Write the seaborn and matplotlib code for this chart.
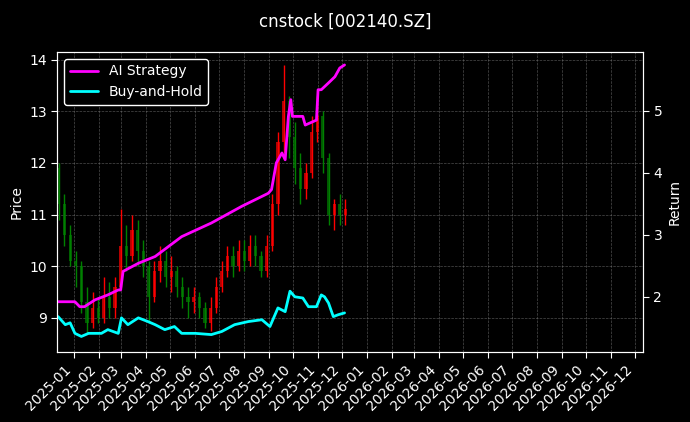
import numpy as np
import pandas as pd
import matplotlib
matplotlib.use("Agg")
import matplotlib.pyplot as plt
import matplotlib.dates as mdates
import seaborn as sns

# weekly candles
opens  = [11.9, 11.2, 10.6, 10.1, 10.0, 9.3, 8.9, 9.2, 9.0, 9.4, 9.2, 9.6, 10.4, 10.2, 10.7, 10.3,
          10.0, 9.4, 9.9, 10.1, 9.8, 9.9, 9.6, 9.4, 9.3, 9.4, 9.2, 8.9, 9.2, 9.6, 9.9, 10.2,
          10.0, 10.3, 10.1, 10.4, 10.2, 9.9, 10.4, 11.2, 12.4, 13.2, 12.5, 11.9, 11.5, 11.8,
          12.6, 12.9, 12.1, 11.0, 11.2, 11.0]
closes = [11.2, 10.6, 10.1, 10.0, 9.3, 8.9, 9.2, 9.0, 9.4, 9.2, 9.6, 10.4, 10.2, 10.7, 10.3, 10.0,
          9.4, 9.9, 10.1, 9.8, 9.9, 9.6, 9.4, 9.3, 9.4, 9.2, 8.9, 9.2, 9.6, 9.9, 10.2, 10.0,
          10.3, 10.1, 10.4, 10.2, 9.9, 10.4, 11.2, 12.4, 13.2, 12.5, 11.9, 11.5, 11.8, 12.6,
          12.9, 12.1, 11.0, 11.2, 11.0, 11.1]
highs  = [12.0, 11.4, 10.8, 10.3, 10.1, 9.6, 9.5, 9.4, 9.8, 9.7, 9.8, 11.1, 10.8, 11.0, 10.9, 10.5,
          10.1, 10.1, 10.4, 10.3, 10.2, 10.0, 9.8, 9.6, 9.6, 9.5, 9.3, 9.4, 9.8, 10.1, 10.4, 10.4,
          10.5, 10.5, 10.6, 10.6, 10.3, 10.6, 11.4, 12.6, 13.9, 13.3, 12.8, 12.2, 12.0, 12.9,
          13.3, 13.0, 12.2, 11.3, 11.4, 11.3]
lows   = [10.9, 10.4, 10.0, 9.6, 9.1, 8.7, 8.8, 8.9, 8.9, 9.0, 9.0, 9.6, 9.9, 10.1, 10.0, 9.8,
          8.9, 9.3, 9.7, 9.6, 9.5, 9.4, 9.2, 9.0, 9.1, 9.0, 8.8, 8.75, 9.1, 9.5, 9.8, 9.8,
          9.9, 9.9, 10.0, 10.0, 9.8, 9.8, 10.3, 11.0, 12.2, 12.1, 11.6, 11.2, 11.3, 11.7,
          12.4, 11.8, 10.8, 10.7, 10.8, 10.8]

ai_dates = ["2024-12-12", "2025-01-02", "2025-01-08", "2025-01-14", "2025-01-27", "2025-02-12",
            "2025-02-25", "2025-02-28", "2025-03-03", "2025-03-22", "2025-04-12", "2025-05-15",
            "2025-06-21", "2025-07-29", "2025-08-31", "2025-09-04", "2025-09-10", "2025-09-17",
            "2025-09-21", "2025-09-25", "2025-09-28", "2025-09-30", "2025-10-13", "2025-10-16",
            "2025-10-30", "2025-11-01", "2025-11-05", "2025-11-14", "2025-11-22", "2025-11-28",
            "2025-12-04"]
ai_ret = [1.92, 1.92, 1.84, 1.84, 1.95, 2.03, 2.11, 2.11, 2.41, 2.54, 2.65, 2.97, 3.19, 3.46,
          3.67, 3.73, 4.16, 4.32, 4.21, 4.91, 5.18, 4.91, 4.91, 4.77, 4.85, 5.34, 5.34, 5.45,
          5.55, 5.69, 5.74]

bh_dates = ["2024-12-12", "2024-12-21", "2024-12-27", "2025-01-02", "2025-01-10", "2025-01-19",
            "2025-02-04", "2025-02-12", "2025-02-25", "2025-03-01", "2025-03-09", "2025-03-22",
            "2025-04-03", "2025-04-12", "2025-04-24", "2025-05-06", "2025-05-15", "2025-06-01",
            "2025-06-21", "2025-07-04", "2025-07-20", "2025-08-06", "2025-08-23", "2025-09-02",
            "2025-09-12", "2025-09-21", "2025-09-27", "2025-10-03", "2025-10-13", "2025-10-20",
            "2025-10-30", "2025-11-05", "2025-11-09", "2025-11-14", "2025-11-20", "2025-11-26",
            "2025-12-04"]
bh_ret = [1.68, 1.55, 1.58, 1.41, 1.36, 1.41, 1.41, 1.47, 1.41, 1.66, 1.55, 1.66, 1.60, 1.55,
          1.47, 1.52, 1.41, 1.41, 1.39, 1.44, 1.55, 1.60, 1.63, 1.52, 1.82, 1.76, 2.09, 2.00,
          1.98, 1.84, 1.84, 2.03, 2.00, 1.90, 1.68, 1.71, 1.74]

weeks = pd.date_range("2024-12-13", periods=len(closes), freq="7D")
candles = pd.DataFrame({"date": weeks, "open": opens, "close": closes, "high": highs, "low": lows})
ai = pd.DataFrame({"date": pd.to_datetime(ai_dates), "ret": ai_ret})
bh = pd.DataFrame({"date": pd.to_datetime(bh_dates), "ret": bh_ret})

plt.style.use("dark_background")
sns.set_style("dark", {"axes.facecolor": "black", "figure.facecolor": "black",
                       "axes.edgecolor": "white", "text.color": "white",
                       "axes.labelcolor": "white", "xtick.color": "white", "ytick.color": "white"})

fig = plt.figure(figsize=(6.9, 4.22), dpi=100)
ax = fig.add_axes([0.083, 0.166, 0.849, 0.711])

for _, r in candles.iterrows():
    col = "red" if r["close"] >= r["open"] else "green"
    ax.vlines(r["date"], r["low"], r["high"], color=col, linewidth=1.0)
    ax.bar(r["date"], abs(r["close"] - r["open"]), bottom=min(r["open"], r["close"]),
           width=4.0, color=col, edgecolor="none", linewidth=0, alpha=0.7)

ax.set_ylim(8.34, 14.15)
ax.set_xlim(pd.Timestamp("2024-12-11"), pd.Timestamp("2026-12-11"))
ax.set_ylabel("Price")
ax.grid(True, color="gray", linestyle="--", linewidth=0.5, alpha=0.6)
ax.xaxis.set_major_locator(mdates.MonthLocator())
ax.xaxis.set_major_formatter(mdates.DateFormatter("%Y-%m"))
ax.tick_params(axis="both", direction="out", length=4, bottom=True, left=True)
plt.setp(ax.get_xticklabels(), rotation=45, ha="right")

ax2 = ax.twinx()
sns.lineplot(data=ai, x="date", y="ret", ax=ax2, color="magenta", linewidth=2, label="AI Strategy")
sns.lineplot(data=bh, x="date", y="ret", ax=ax2, color="cyan", linewidth=2, label="Buy-and-Hold")
ax2.set_ylim(1.11, 5.95)
ax2.set_ylabel("Return")
ax2.set_xlabel("")
ax2.tick_params(axis="y", direction="out", length=4, right=True)
ax2.legend(loc="upper left", facecolor="black", edgecolor="white", framealpha=1)
for s in ax2.spines.values():
    s.set_color("white")

fig.suptitle("cnstock [002140.SZ]", y=0.97)
fig.savefig("out.png", dpi=100, facecolor="black")
